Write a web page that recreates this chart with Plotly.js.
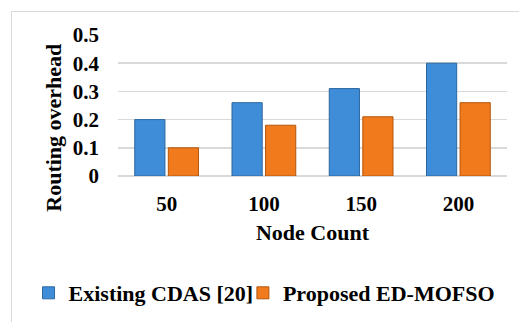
<!DOCTYPE html>
<html>
<head>
<meta charset="utf-8">
<script src="https://cdn.plot.ly/plotly-3.0.1.min.js"></script>
<style>
  html, body { margin: 0; padding: 0; background: #ffffff; }
  #frame {
    position: absolute; left: 11px; top: 11px; width: 540px; height: 340px;
    border: 1px solid #d9d9d9; box-sizing: border-box;
  }
  #chart { position: absolute; left: 0; top: 0; width: 519px; height: 322px; }
</style>
</head>
<body>
<div id="frame"></div>
<div id="chart"></div>
<script>
// Routing overhead per node count for the two schemes
const nodeCounts = ['50', '100', '150', '200'];
const existingCdas = [0.20, 0.26, 0.31, 0.40];
const proposedEdMofso = [0.10, 0.18, 0.21, 0.26];
const yTicks = [0, 0.1, 0.2, 0.3, 0.4, 0.5];
const yTickText = ['0', '0.1', '0.2', '0.3', '0.4', '0.5'];

const serif = 'Liberation Serif';
const boldFont = (size) => ({ family: serif, size: size, weight: 'bold', color: '#000000' });

const traces = [
  {
    type: 'bar', name: 'Existing CDAS [20]', x: nodeCounts, y: existingCdas,
    marker: { color: '#3f8dd9', line: { color: '#2b679f', width: 1 } },
    legend: 'legend', hoverinfo: 'skip'
  },
  {
    type: 'bar', name: 'Proposed ED-MOFSO', x: nodeCounts, y: proposedEdMofso,
    marker: { color: '#f07a1c', line: { color: '#b4560c', width: 1 } },
    legend: 'legend2', hoverinfo: 'skip'
  }
];

// one single-entry legend per series, laid side by side under the axis title
const legendBase = (xPos) => ({
  orientation: 'h', xref: 'container', yref: 'container',
  x: xPos, xanchor: 'left', y: 0.09, yanchor: 'middle',
  font: boldFont(22), bgcolor: 'rgba(0,0,0,0)'
});

const layout = {
  width: 519, height: 322,
  margin: { l: 118, r: 12, t: 35, b: 146, autoexpand: false },
  paper_bgcolor: 'rgba(0,0,0,0)',
  plot_bgcolor: 'rgba(0,0,0,0)',
  barmode: 'group', bargap: 0.31, bargroupgap: 0.1,
  font: { family: serif, color: '#000000' },
  xaxis: {
    type: 'category', showgrid: false, zeroline: false, showline: false,
    ticks: '', ticklabelstandoff: 13,
    tickfont: boldFont(21),
    title: { text: 'Node Count', font: boldFont(22), standoff: 9 }
  },
  yaxis: {
    range: [0, 0.5], tickvals: yTicks, ticktext: yTickText,
    showgrid: true, gridcolor: '#d9d9d9', gridwidth: 1.5,
    zeroline: true, zerolinecolor: '#d9d9d9', zerolinewidth: 1.5,
    showline: false, ticks: '', ticklabelstandoff: 18,
    tickfont: boldFont(21)
  },
  // vertical axis caption, sitting a little below the plot-area centre
  annotations: [{
    text: 'Routing overhead', textangle: -90, showarrow: false,
    xref: 'paper', yref: 'paper', x: -0.168, y: 0.34,
    xanchor: 'center', yanchor: 'middle', font: boldFont(22)
  }],
  showlegend: true,
  legend: legendBase(0.055),
  legend2: legendBase(0.468)
};

Plotly.newPlot('chart', traces, layout, { displayModeBar: false, staticPlot: true });
</script>
</body>
</html>
